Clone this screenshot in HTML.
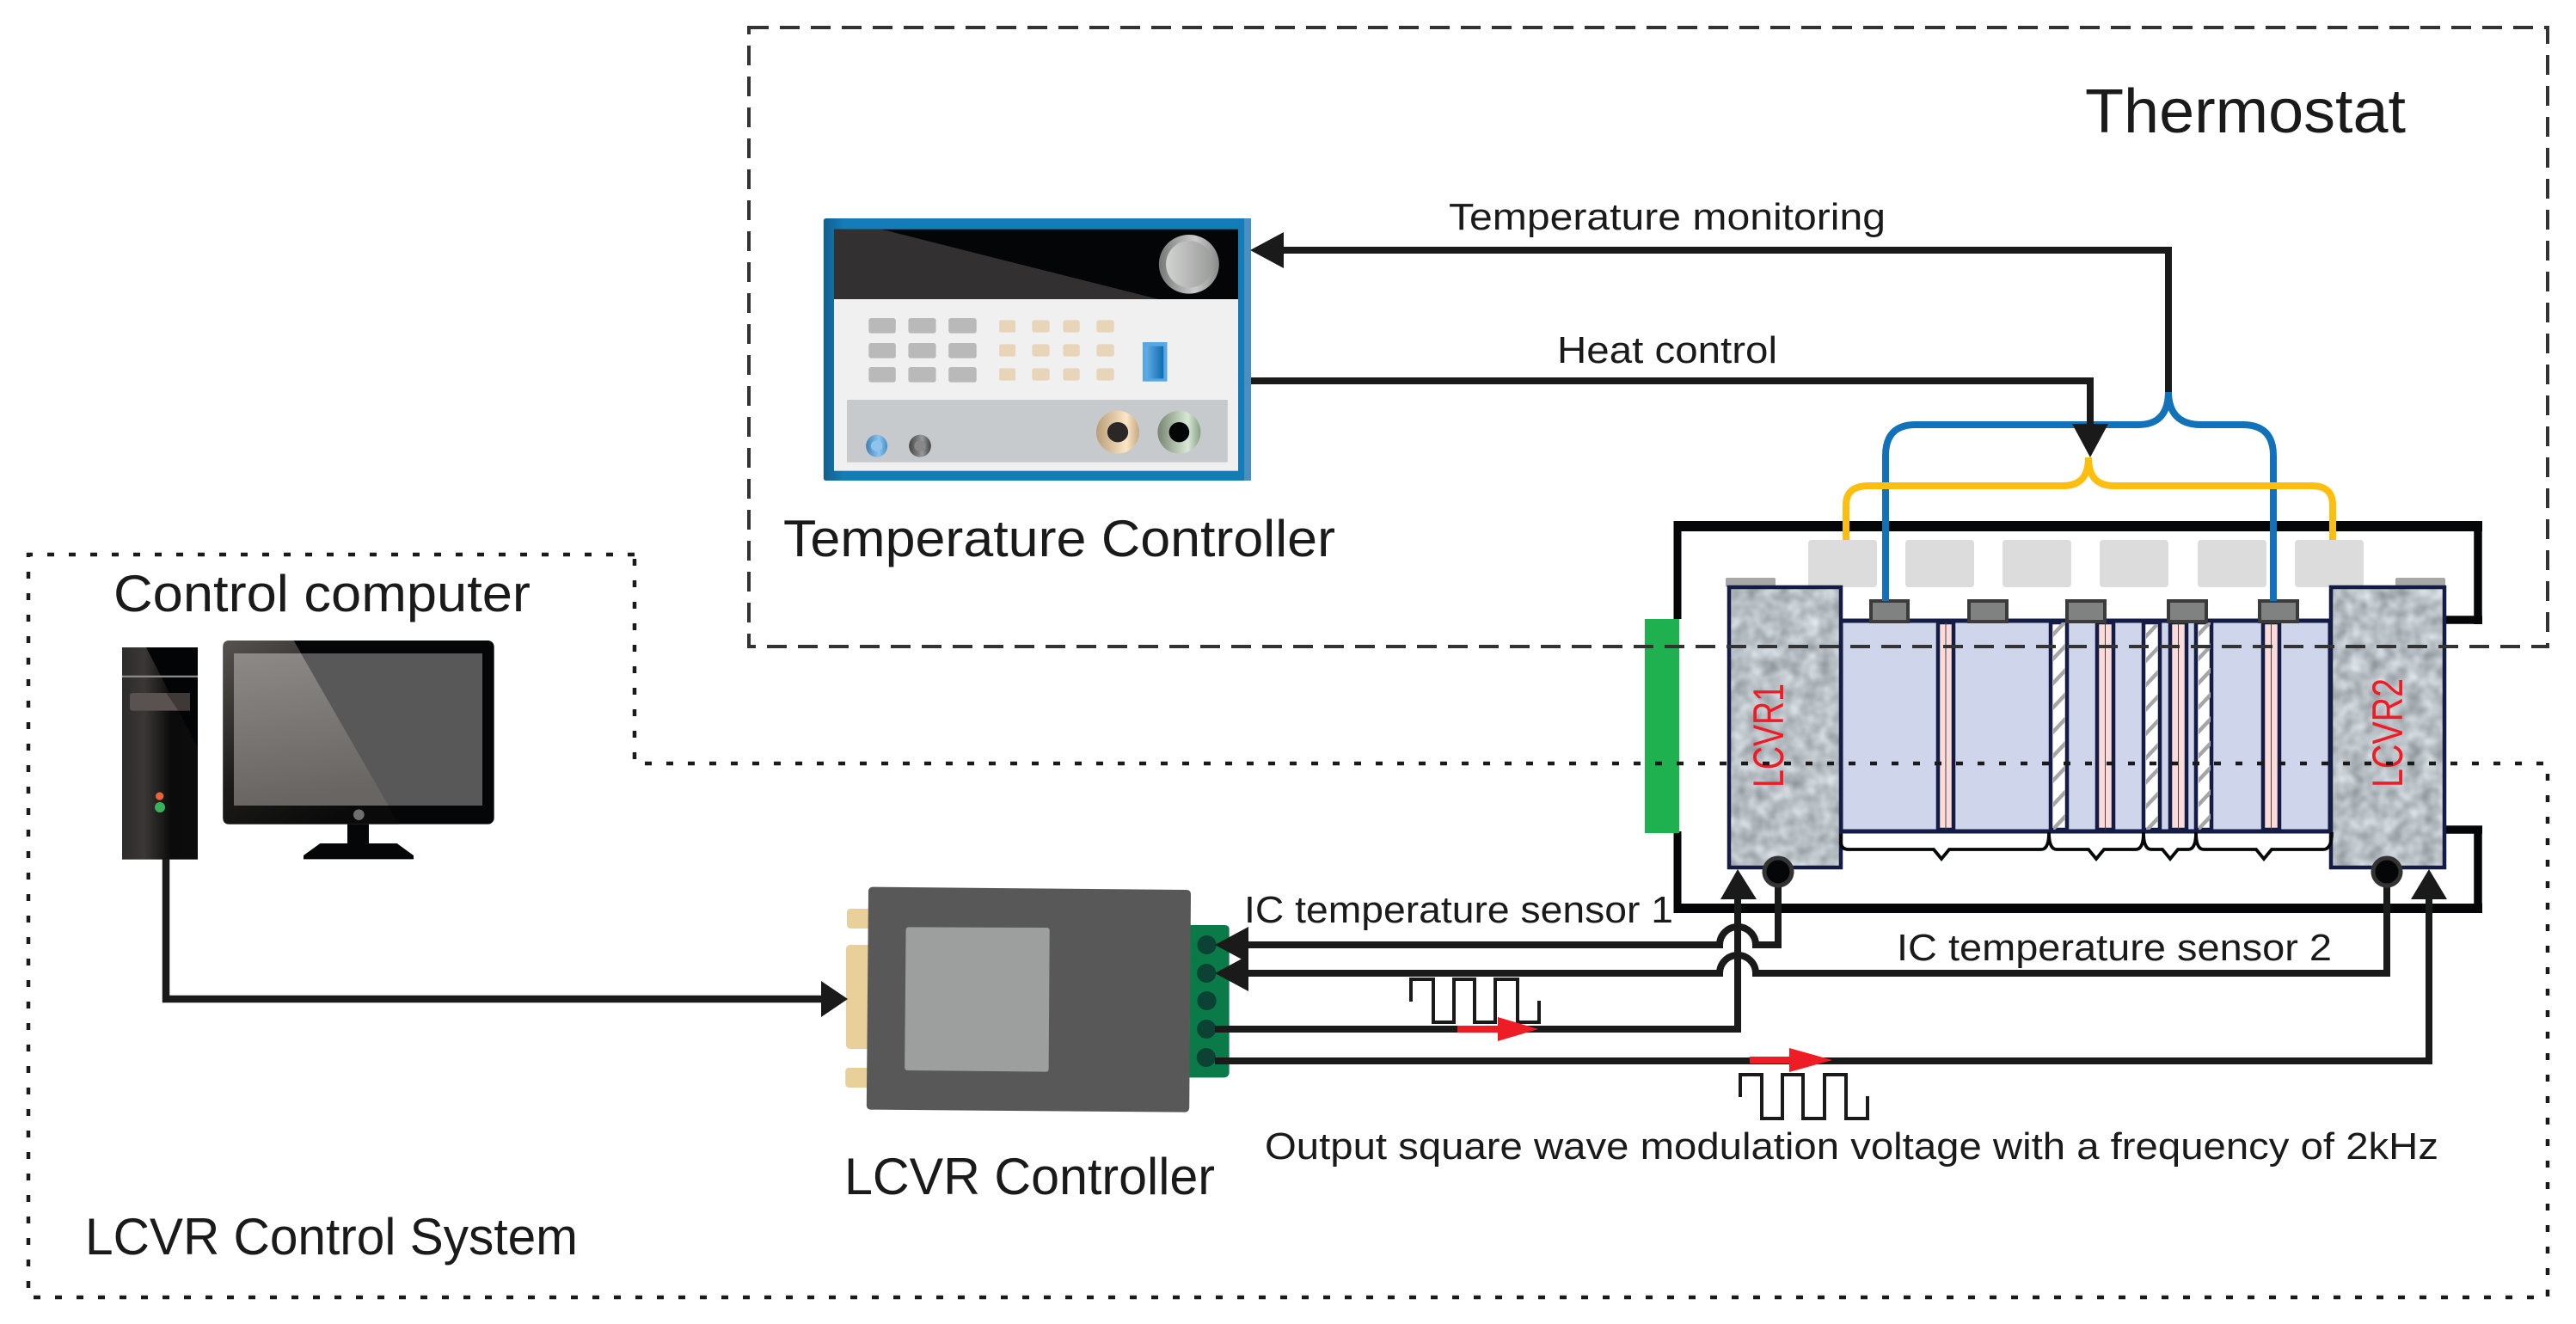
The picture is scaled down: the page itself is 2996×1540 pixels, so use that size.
<!DOCTYPE html>
<html><head><meta charset="utf-8"><style>html,body{margin:0;padding:0;background:#fff}svg{display:block}text{font-family:"Liberation Sans",sans-serif;fill:#1a1a1a}</style></head>
<body>
<svg width="2996" height="1540" viewBox="0 0 2996 1540" xmlns="http://www.w3.org/2000/svg">
<defs>
<filter id="g" x="0" y="0" width="1" height="1" color-interpolation-filters="sRGB"><feTurbulence type="fractalNoise" baseFrequency="0.06" numOctaves="2" seed="5"/><feColorMatrix values=".4 0 0 0 .52 .4 0 0 0 .55 .4 0 0 0 .57 0 0 0 0 1"/></filter>
<pattern id="h" width="14" height="28.3" patternUnits="userSpaceOnUse"><path d="M-2 16 L16 -3 M-2 44.3 L16 25.3" stroke="#a5a5a5" stroke-width="4.5" fill="none"/></pattern>
<linearGradient id="tw"><stop offset="0" stop-color="#2e2c2b"/><stop offset=".3" stop-color="#3a3735"/><stop offset=".65" stop-color="#0b0b0b"/><stop offset="1" stop-color="#0c0c0c"/></linearGradient>
<linearGradient id="bz" x1="0" y1="0" x2=".6" y2="1"><stop offset="0" stop-color="#56524f"/><stop offset=".6" stop-color="#1c1b1a"/><stop offset="1" stop-color="#0a0a0a"/></linearGradient>
<linearGradient id="sc" x1="0" y1="0" x2=".15" y2="1"><stop offset="0" stop-color="#8c8987"/><stop offset="1" stop-color="#686563"/></linearGradient>
<linearGradient id="bl"><stop offset="0" stop-color="#125f8e"/><stop offset=".05" stop-color="#147db9"/><stop offset="1" stop-color="#147db9"/></linearGradient>
<linearGradient id="kn"><stop offset="0" stop-color="#777"/><stop offset=".6" stop-color="#ccc"/><stop offset="1" stop-color="#888"/></linearGradient>
<linearGradient id="kn2"><stop offset="0" stop-color="#d2d3d2"/><stop offset="1" stop-color="#9a9c9a"/></linearGradient>
<linearGradient id="cop"><stop offset="0" stop-color="#b89e78"/><stop offset=".7" stop-color="#fce6c5"/><stop offset="1" stop-color="#c4a883"/></linearGradient>
<linearGradient id="grn"><stop offset="0" stop-color="#77846f"/><stop offset=".7" stop-color="#d9e8d6"/><stop offset="1" stop-color="#85a085"/></linearGradient>
<linearGradient id="bb"><stop offset="0" stop-color="#3f7fb5"/><stop offset=".6" stop-color="#8cc4ee"/><stop offset="1" stop-color="#4a8fc5"/></linearGradient>
<linearGradient id="gb"><stop offset="0" stop-color="#444"/><stop offset=".6" stop-color="#999"/><stop offset="1" stop-color="#444"/></linearGradient>
<linearGradient id="sw"><stop offset="0" stop-color="#62ade6"/><stop offset="1" stop-color="#0f6ab0"/></linearGradient>
</defs>

<!-- computer -->
<g transform="translate(120,720) scale(.33333)">
<rect x="66" y="99" width="264" height="740" fill="url(#tw)"/>
<polygon points="150,99 330,99 330,450" fill="#030405"/>
<rect x="66" y="197" width="264" height="7" fill="#8a8887"/>
<rect x="93" y="258" width="210" height="62" rx="10" fill="#5a5250"/>
<polygon points="220,258 303,258 303,320 262,320" fill="#3e3836"/>
<circle cx="197" cy="618" r="14" fill="#e8643a"/>
<circle cx="198" cy="657" r="18" fill="#3ab25c"/>
<rect x="418" y="75" width="946" height="641" rx="22" fill="#050608"/>
<path d="M440 75H665L1030 716H440Q418 716 418 694V97Q418 75 440 75Z" fill="url(#bz)"/>
<rect x="456" y="120" width="867" height="531" fill="#585858"/>
<polygon points="456,120 690,120 995,651 456,651" fill="url(#sc)"/>
<circle cx="892" cy="683" r="19" fill="#6e6e6e"/>
<rect x="852" y="716" width="75" height="70" fill="#050608"/>
<polygon points="757,783 1025,783 1083,825 1083,838 699,838 699,825" fill="#050608"/>
</g>

<!-- temperature controller -->
<g transform="translate(940,230) scale(.35714,.33333)">
<rect x="50" y="72" width="1392" height="915" rx="8" fill="url(#bl)"/>
<rect x="1420" y="72" width="22" height="915" fill="#4b8fc0"/>
<rect x="84" y="110" width="1316" height="244" fill="#040507"/>
<polygon points="84,110 238,110 1140,354 84,354" fill="#333031"/>
<rect x="84" y="354" width="1316" height="599" fill="#f0f0f0"/>
<ellipse cx="1240" cy="232" rx="98" ry="103" fill="url(#kn)"/>
<ellipse cx="1241" cy="232" rx="76" ry="82" fill="url(#kn2)"/>
<g fill="#b8b9b8"><rect x="197" y="420" width="88" height="53" rx="8"/><rect x="326" y="420" width="90" height="53" rx="8"/><rect x="457" y="420" width="91" height="53" rx="8"/><rect x="197" y="507" width="88" height="53" rx="8"/><rect x="326" y="507" width="90" height="53" rx="8"/><rect x="457" y="507" width="91" height="53" rx="8"/><rect x="197" y="591" width="88" height="53" rx="8"/><rect x="326" y="591" width="90" height="53" rx="8"/><rect x="457" y="591" width="91" height="53" rx="8"/></g>
<g fill="#e8d5b9"><rect x="622" y="427" width="53" height="43" rx="6"/><rect x="729" y="427" width="57" height="43" rx="8"/><rect x="830" y="427" width="54" height="43" rx="8"/><rect x="939" y="427" width="57" height="43" rx="8"/><rect x="622" y="511" width="53" height="43" rx="6"/><rect x="729" y="511" width="57" height="43" rx="8"/><rect x="830" y="511" width="54" height="43" rx="8"/><rect x="939" y="511" width="57" height="43" rx="8"/><rect x="622" y="595" width="53" height="43" rx="6"/><rect x="729" y="595" width="57" height="43" rx="8"/><rect x="830" y="595" width="54" height="43" rx="8"/><rect x="939" y="595" width="57" height="43" rx="8"/></g>
<rect x="1089" y="504" width="80" height="137" fill="#55a8e2"/>
<rect x="1100" y="518" width="57" height="113" fill="url(#sw)"/>
<rect x="126" y="705" width="1240" height="218" fill="#c6cacd"/>
<ellipse cx="223" cy="866" rx="35" ry="39" fill="url(#bb)"/><ellipse cx="223" cy="866" rx="19" ry="19" fill="#8cc4ee"/>
<ellipse cx="364" cy="866" rx="36" ry="39" fill="url(#gb)"/><ellipse cx="364" cy="866" rx="19" ry="19" fill="#888"/>
<ellipse cx="1008" cy="818" rx="70" ry="75" fill="url(#cop)"/><ellipse cx="1008" cy="818" rx="34" ry="35" fill="#2a2726"/>
<ellipse cx="1208" cy="818" rx="70" ry="75" fill="url(#grn)"/><ellipse cx="1208" cy="818" rx="33" ry="35" fill="#040507"/>
</g>

<!-- LCVR controller -->
<g transform="translate(960,1010) scale(.35714,.33333)">
<g fill="#e9cf9a"><rect x="70" y="141" width="90" height="69" rx="12"/><rect x="67" y="267" width="90" height="363" rx="14"/><rect x="65" y="696" width="90" height="69" rx="12"/></g>
<path d="M1188 198H1300Q1315 198 1315 213V715Q1312 730 1297 730H1185Z" fill="#0a7a48"/>
<path d="M156 65 L1174 75 Q1190 75 1190 91 L1185 835 Q1184 851 1168 851 L150 842 Q134 842 134 826 L140 81 Q140 65 156 65Z" fill="#585858"/>
<path d="M272 205 L720 207 Q730 207 730 217 L727 700 Q727 710 717 710 L268 705 Q258 705 258 695 L262 215 Q262 205 272 205Z" fill="#9d9f9e"/>
<g fill="#0b4234"><ellipse cx="1242" cy="267" rx="31" ry="33"/><ellipse cx="1241" cy="366" rx="31" ry="33"/><ellipse cx="1242" cy="462" rx="31" ry="33"/><ellipse cx="1241" cy="561" rx="31" ry="33"/><ellipse cx="1240" cy="660" rx="31" ry="33"/></g>
</g>

<!-- wires: computer to controller -->
<path d="M193 999V1162H960" fill="none" stroke="#1a1a1a" stroke-width="8.5"/>
<polygon points="986,1162 955,1141 955,1183" fill="#1a1a1a"/>

<!-- frame -->
<g fill="none" stroke="#050608">
<path d="M1951 720V606" stroke-width="9"/><path d="M1946.500 612H2887" stroke-width="12"/><path d="M2882 606V726" stroke-width="9.500"/><path d="M2844 721H2887" stroke-width="9.500"/>
<path d="M1951 967V1062" stroke-width="9"/><path d="M1946.500 1056.500H2887" stroke-width="11"/><path d="M2882 1062V961" stroke-width="9.500"/><path d="M2844 965H2887" stroke-width="9.500"/>
</g>
<rect x="1913" y="720" width="40" height="249" fill="#1fb04f"/>

<!-- LCVR stack -->
<g fill="#dcdcdc"><rect x="2103" y="628" width="80" height="55" rx="4"/><rect x="2216" y="628" width="80" height="55" rx="4"/><rect x="2329" y="628" width="80" height="55" rx="4"/><rect x="2442" y="628" width="80" height="55" rx="4"/><rect x="2556" y="628" width="80" height="55" rx="4"/><rect x="2669" y="628" width="80" height="55" rx="4"/></g>
<rect x="2007" y="672" width="58" height="11" rx="2" fill="#a8a8a8"/>
<rect x="2786" y="672" width="58" height="11" rx="2" fill="#a8a8a8"/>

<rect x="2141" y="722" width="569" height="245" fill="#cfd5ea" stroke="#141c45" stroke-width="5"/>
<g fill="#fcdcda" stroke="#141c45" stroke-width="4.5"><rect x="2254" y="724" width="18" height="241"/><rect x="2439" y="724" width="19" height="241"/><rect x="2524" y="724" width="19" height="241"/><rect x="2632" y="724" width="19" height="241"/></g>
<path d="M2263 724V965M2448.500 724V965M2533.500 724V965M2641.500 724V965" stroke="#444" stroke-width="1"/>
<g stroke="#141c45" stroke-width="4.500"><rect x="2385" y="724" width="19" height="241" fill="#fff"/><rect x="2493" y="724" width="19" height="241" fill="#fff"/><rect x="2554" y="724" width="18" height="241" fill="#fff"/></g>
<rect transform="translate(2388,724)" width="14" height="241" fill="url(#h)"/>
<rect transform="translate(2496,726)" width="14" height="239" fill="url(#h)"/>
<rect transform="translate(2557,724)" width="14" height="241" fill="url(#h)"/>

<rect x="2011" y="683" width="130" height="326" fill="#b8bfc3" filter="url(#g)"/>
<rect x="2711" y="683" width="132" height="326" fill="#b8bfc3" filter="url(#g)"/>
<rect x="2011" y="683" width="130" height="326" fill="none" stroke="#141c45" stroke-width="4.500"/>
<rect x="2711" y="683" width="132" height="326" fill="none" stroke="#141c45" stroke-width="4.500"/>
<text transform="translate(2074,916) rotate(-90)" font-size="50" style="fill:#ee1c25" textLength="121" lengthAdjust="spacingAndGlyphs">LCVR1</text>
<text transform="translate(2794,916) rotate(-90)" font-size="50" style="fill:#ee1c25" textLength="127" lengthAdjust="spacingAndGlyphs">LCVR2</text>
<g fill="#808281" stroke="#3b3b3b" stroke-width="4"><rect x="2176" y="699" width="43" height="24"/><rect x="2290" y="699" width="44" height="24"/><rect x="2404" y="699" width="44" height="24"/><rect x="2522" y="699" width="44" height="24"/><rect x="2628" y="699" width="44" height="24"/></g>

<!-- braces -->
<path d="M2141 970V979Q2141 988 2150 988H2249L2258 999L2267 988H2374Q2383 988 2383 968Q2383 988 2392 988H2429L2438 999L2447 988H2484Q2493 988 2493 968Q2493 988 2502 988H2515L2524 999L2533 988H2545Q2554 988 2554 968Q2554 988 2563 988H2624L2633 999L2642 988H2702Q2712 988 2712 968" fill="none" stroke="#050608" stroke-width="3.800"/>

<!-- blue / yellow -->
<path d="M2193 699V530Q2193 494 2228 494H2487Q2522 494 2522 455Q2522 494 2560 494H2608Q2644 494 2644 530V699" fill="none" stroke="#1272b9" stroke-width="8"/>
<path d="M2147 628V587Q2147 565 2174 565H2400Q2429 565 2429 532Q2429 565 2458 565H2688Q2713 565 2713 587V628" fill="none" stroke="#fdbf0f" stroke-width="8"/>
<!-- black wires top -->
<path d="M1490 291H2522V456" fill="none" stroke="#1a1a1a" stroke-width="8"/>
<path d="M1455 443H2431V500" fill="none" stroke="#1a1a1a" stroke-width="8"/>
<polygon points="1454,291 1493,270 1493,312" fill="#1a1a1a"/>
<polygon points="2431,532 2410,493 2452,493" fill="#1a1a1a"/>

<!-- lower wires -->
<g fill="none" stroke="#1a1a1a" stroke-width="8">
<path d="M1440 1099H2000A21 21 0 0 1 2042 1099H2068V1025"/>
<path d="M1440 1132H2000A21 21 0 0 1 2042 1132H2776V1025"/>
<path d="M1413 1197H2021V1040"/>
<path d="M1413 1234H2825V1040"/>
</g>
<polygon points="1413,1099 1452,1078 1452,1120" fill="#1a1a1a"/>
<polygon points="1413,1132 1452,1111 1452,1153" fill="#1a1a1a"/>
<polygon points="2021,1011 2001,1046 2043,1046" fill="#1a1a1a"/>
<polygon points="2825,1011 2804,1046 2846,1046" fill="#1a1a1a"/>
<circle cx="2068" cy="1014" r="16" fill="#050608" stroke="#333" stroke-width="5"/>
<circle cx="2776" cy="1014" r="16" fill="#050608" stroke="#333" stroke-width="5"/>

<!-- square waves -->
<path d="M1641 1165V1139H1667V1189H1691V1139H1715V1189H1739V1139H1765V1189H1790V1164" fill="none" stroke="#1a1a1a" stroke-width="4"/>
<path d="M2024 1276V1250H2049V1301H2073V1250H2097V1301H2122V1250H2147V1301H2172V1275" fill="none" stroke="#1a1a1a" stroke-width="4"/>
<!-- red arrows -->
<path d="M1695 1197H1745" stroke="#ee1c25" stroke-width="8"/><polygon points="1789,1197 1742,1183 1742,1211" fill="#ee1c25"/>
<path d="M2035 1233H2085" stroke="#ee1c25" stroke-width="8"/><polygon points="2131,1233 2081,1219 2081,1247" fill="#ee1c25"/>

<!-- region outlines -->
<rect x="871" y="32" width="2092" height="720" fill="none" stroke="#333" stroke-width="4" stroke-dasharray="23 13"/>
<path d="M738 645H33V1509H2963V888H738V645" fill="none" stroke="#1a1a1a" stroke-width="4.500" stroke-dasharray="8 17"/>

<!-- labels -->
<text x="2425" y="154" font-size="72" textLength="373" lengthAdjust="spacingAndGlyphs">Thermostat</text>
<text x="1685" y="267" font-size="44" textLength="508" lengthAdjust="spacingAndGlyphs">Temperature monitoring</text>
<text x="1811" y="422" font-size="44" textLength="256" lengthAdjust="spacingAndGlyphs">Heat control</text>
<text x="911" y="647" font-size="60" textLength="642" lengthAdjust="spacingAndGlyphs">Temperature Controller</text>
<text x="132" y="711" font-size="60" textLength="485" lengthAdjust="spacingAndGlyphs">Control computer</text>
<text x="1447" y="1073" font-size="44" textLength="499" lengthAdjust="spacingAndGlyphs">IC temperature sensor 1</text>
<text x="2206" y="1117" font-size="44" textLength="506" lengthAdjust="spacingAndGlyphs">IC temperature sensor 2</text>
<text x="1471" y="1348" font-size="44" textLength="1365" lengthAdjust="spacingAndGlyphs">Output square wave modulation voltage with a frequency of 2kHz</text>
<text x="982" y="1389" font-size="60" textLength="431" lengthAdjust="spacingAndGlyphs">LCVR Controller</text>
<text x="99" y="1459" font-size="60" textLength="573" lengthAdjust="spacingAndGlyphs">LCVR Control System</text>
</svg>
</body></html>
